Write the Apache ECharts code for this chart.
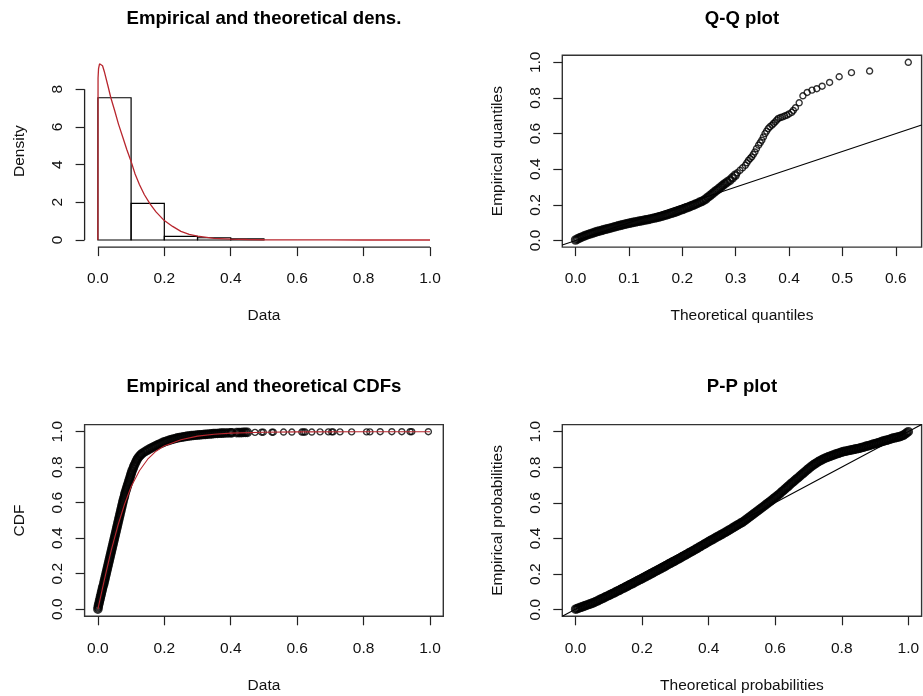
<!DOCTYPE html>
<html>
<head>
<meta charset="utf-8">
<title>Goodness-of-fit plots</title>
<script src="https://cdn.jsdelivr.net/npm/echarts@6/dist/echarts.min.js"></script>
<style>
  html, body { margin: 0; padding: 0; background: #fff; }
  #chart { width: 923px; height: 696px; }
</style>
</head>
<body>
<div id="chart"></div>
<script>
// ---- histogram + fitted density ----
const histBreaks = [0, 0.1, 0.2, 0.3, 0.4, 0.5];
const histDensity = [7.55, 1.94, 0.19, 0.12, 0.06];
const densX = [0, 0.0005, 0.002, 0.005, 0.009, 0.014, 0.02, 0.03, 0.039, 0.05, 0.062, 0.075, 0.087, 0.1, 0.112, 0.125, 0.14, 0.157, 0.175, 0.2, 0.225, 0.25, 0.275, 0.3, 0.35, 0.4, 0.45, 0.5, 0.6, 0.7, 0.8, 0.9, 1.0];
const densY = [0, 8.6, 9.1, 9.35, 9.43, 9.25, 8.9, 8.2, 7.55, 6.9, 6.15, 5.45, 4.8, 4.17, 3.5, 2.95, 2.4, 1.92, 1.49, 1.03, 0.72, 0.46, 0.3, 0.2, 0.09, 0.05, 0.025, 0.012, 0.004, 0.001, 0, 0, 0];

// ---- Q-Q plot ----
const qqTheo = [0, 0.004, 0.008, 0.012, 0.016, 0.02, 0.024, 0.028, 0.032, 0.036, 0.04, 0.044, 0.048, 0.052, 0.056, 0.06, 0.064, 0.068, 0.072, 0.076,
  0.08, 0.084, 0.088, 0.092, 0.096, 0.1, 0.104, 0.108, 0.112, 0.116, 0.12, 0.124, 0.128, 0.132, 0.136, 0.14, 0.144, 0.148, 0.152, 0.156,
  0.16, 0.164, 0.168, 0.172, 0.176, 0.18, 0.184, 0.188, 0.192, 0.196, 0.2, 0.204, 0.208, 0.212, 0.216, 0.22, 0.224, 0.228, 0.232, 0.236,
  0.24, 0.244, 0.248, 0.252, 0.256, 0.26, 0.264, 0.268, 0.272, 0.276, 0.28,
  0.284, 0.289, 0.294, 0.299, 0.303, 0.308, 0.313, 0.318, 0.321, 0.324, 0.327, 0.33, 0.333, 0.336, 0.339, 0.343, 0.346, 0.349, 0.352, 0.355,
  0.358, 0.361, 0.364, 0.368, 0.371, 0.374, 0.377, 0.38, 0.384, 0.388, 0.392, 0.396, 0.4, 0.405, 0.408, 0.412, 0.419, 0.426, 0.434, 0.443,
  0.452, 0.462, 0.476, 0.494, 0.517, 0.551, 0.6235];
const qqEmp = [0.003, 0.009, 0.015, 0.02, 0.025, 0.03, 0.034, 0.038, 0.042, 0.046, 0.05, 0.053, 0.056, 0.06, 0.063, 0.066, 0.069, 0.072, 0.076, 0.079,
  0.082, 0.085, 0.088, 0.091, 0.094, 0.097, 0.099, 0.102, 0.104, 0.107, 0.109, 0.111, 0.114, 0.116, 0.118, 0.121, 0.124, 0.126, 0.129, 0.132,
  0.135, 0.138, 0.142, 0.145, 0.149, 0.153, 0.157, 0.161, 0.165, 0.17, 0.174, 0.179, 0.184, 0.188, 0.193, 0.198, 0.203, 0.208, 0.214, 0.219,
  0.225, 0.233, 0.243, 0.252, 0.262, 0.272, 0.281, 0.29, 0.3, 0.31, 0.319,
  0.328, 0.338, 0.352, 0.366, 0.38, 0.394, 0.408, 0.422, 0.436, 0.45, 0.46, 0.469, 0.483, 0.497, 0.516, 0.535, 0.549, 0.563, 0.581, 0.6,
  0.614, 0.628, 0.638, 0.647, 0.657, 0.666, 0.676, 0.685, 0.69, 0.694, 0.699, 0.703, 0.71, 0.719, 0.73, 0.745, 0.773, 0.812, 0.831, 0.844,
  0.852, 0.866, 0.887, 0.919, 0.942, 0.951, 1.0];

// ---- empirical and theoretical CDF ----
const cdfX = [0, 0.001, 0.002, 0.004, 0.005, 0.007, 0.008, 0.01, 0.011, 0.013, 0.014, 0.016, 0.018, 0.019, 0.021, 0.022, 0.024, 0.025, 0.027, 0.028,
  0.03, 0.031, 0.033, 0.034, 0.036, 0.037, 0.039, 0.04, 0.042, 0.043, 0.045, 0.046, 0.048, 0.049, 0.051, 0.052, 0.054, 0.055, 0.057, 0.058,
  0.06, 0.061, 0.063, 0.064, 0.066, 0.067, 0.069, 0.07, 0.072, 0.073, 0.075, 0.076, 0.078, 0.08, 0.081, 0.083, 0.085, 0.087, 0.089, 0.091,
  0.093, 0.095, 0.097, 0.099, 0.101, 0.103, 0.106, 0.108, 0.111, 0.114, 0.117, 0.12, 0.124, 0.128,
  0.132, 0.138, 0.144, 0.15, 0.156, 0.162, 0.168, 0.174, 0.18, 0.186, 0.192, 0.198, 0.204, 0.21, 0.216, 0.222, 0.228, 0.234, 0.24, 0.246,
  0.252, 0.258, 0.264, 0.27, 0.276, 0.282, 0.288, 0.294, 0.3, 0.306, 0.312, 0.318, 0.324, 0.33, 0.336, 0.342, 0.348, 0.354, 0.36, 0.366,
  0.372, 0.378, 0.385, 0.392, 0.4,
  0.403, 0.418, 0.425, 0.432, 0.438, 0.444, 0.45, 0.473, 0.493, 0.498, 0.524, 0.528, 0.559, 0.584, 0.614, 0.619, 0.624, 0.644, 0.669, 0.694,
  0.704, 0.708, 0.729, 0.764, 0.809, 0.819, 0.85, 0.885, 0.915, 0.94, 0.945, 0.995];
const cdfY = [0, 0.012, 0.024, 0.036, 0.048, 0.06, 0.072, 0.084, 0.096, 0.108, 0.12, 0.132, 0.144, 0.156, 0.168, 0.18, 0.192, 0.204, 0.216, 0.228,
  0.24, 0.252, 0.264, 0.276, 0.288, 0.3, 0.312, 0.324, 0.336, 0.348, 0.36, 0.372, 0.384, 0.396, 0.408, 0.42, 0.432, 0.444, 0.456, 0.468,
  0.48, 0.492, 0.504, 0.516, 0.528, 0.54, 0.552, 0.564, 0.576, 0.588, 0.6, 0.612, 0.624, 0.636, 0.648, 0.66, 0.672, 0.684, 0.696, 0.708,
  0.72, 0.732, 0.744, 0.756, 0.768, 0.78, 0.792, 0.804, 0.816, 0.828, 0.84, 0.85, 0.86, 0.868,
  0.875, 0.883, 0.89, 0.897, 0.903, 0.909, 0.915, 0.92, 0.926, 0.931, 0.936, 0.941, 0.945, 0.949, 0.953, 0.956, 0.959, 0.962, 0.965, 0.967,
  0.969, 0.971, 0.973, 0.975, 0.976, 0.978, 0.979, 0.98, 0.981, 0.982, 0.983, 0.984, 0.985, 0.986, 0.987, 0.988, 0.989, 0.99, 0.99, 0.991,
  0.992, 0.992, 0.993, 0.993, 0.994,
  0.994, 0.995, 0.995, 0.995, 0.996, 0.996, 0.996, 0.996, 0.997, 0.997, 0.997, 0.997, 0.998, 0.998, 0.998, 0.998, 0.998, 0.998, 0.999, 0.999,
  0.999, 0.999, 0.999, 0.999, 0.999, 0.999, 1.0, 1.0, 1.0, 1.0, 1.0, 1.0];
const cdfTheoX = [0, 0.02, 0.04, 0.06, 0.08, 0.1, 0.125, 0.15, 0.175, 0.2, 0.25, 0.3, 0.35, 0.4, 0.5, 0.6, 0.8, 1.0];
const cdfTheoY = [0, 0.17, 0.33, 0.47, 0.59, 0.69, 0.78, 0.845, 0.89, 0.92, 0.955, 0.975, 0.986, 0.992, 0.997, 0.999, 1.0, 1.0];

// ---- P-P plot ----
const ppTheo = [0, 0.005, 0.01, 0.015, 0.02, 0.025, 0.03, 0.035, 0.04, 0.045, 0.05, 0.055, 0.06, 0.065, 0.07, 0.075, 0.08, 0.085, 0.09, 0.095,
  0.1, 0.105, 0.11, 0.115, 0.12, 0.125, 0.13, 0.135, 0.14, 0.145, 0.15, 0.155, 0.16, 0.165, 0.17, 0.175, 0.18, 0.185, 0.19, 0.195,
  0.2, 0.205, 0.21, 0.215, 0.22, 0.225, 0.23, 0.235, 0.24, 0.245, 0.25, 0.255, 0.26, 0.265, 0.27, 0.275, 0.28, 0.285, 0.29, 0.295,
  0.3, 0.305, 0.31, 0.315, 0.32, 0.325, 0.33, 0.335, 0.34, 0.345, 0.35, 0.355, 0.36, 0.365, 0.37, 0.375, 0.38, 0.385, 0.39, 0.395,
  0.4, 0.405, 0.41, 0.415, 0.42, 0.425, 0.43, 0.435, 0.44, 0.445, 0.45, 0.455, 0.46, 0.465, 0.47, 0.475, 0.48, 0.485, 0.49, 0.495,
  0.5, 0.505, 0.51, 0.515, 0.52, 0.525, 0.53, 0.535, 0.54, 0.545, 0.55, 0.555, 0.56, 0.565, 0.57, 0.575, 0.58, 0.585, 0.59, 0.595,
  0.6, 0.605, 0.61, 0.615, 0.62, 0.625, 0.63, 0.635, 0.64, 0.645, 0.65, 0.655, 0.66, 0.665, 0.67, 0.675, 0.68, 0.685, 0.69, 0.695,
  0.7, 0.705, 0.71, 0.715, 0.72, 0.725, 0.73, 0.735, 0.74, 0.745, 0.75, 0.755, 0.76, 0.765, 0.77, 0.775, 0.78, 0.785, 0.79, 0.795,
  0.8, 0.805, 0.81, 0.815, 0.82, 0.825, 0.83, 0.835, 0.84, 0.845, 0.85, 0.855, 0.86, 0.865, 0.87, 0.875, 0.88, 0.885, 0.89, 0.895,
  0.9, 0.905, 0.91, 0.915, 0.92, 0.925, 0.93, 0.935, 0.94, 0.945, 0.95, 0.955, 0.96, 0.965, 0.97, 0.975, 0.98, 0.985, 0.99, 0.995, 1.0];
const ppEmp = [0.003, 0.006, 0.01, 0.013, 0.016, 0.02, 0.023, 0.027, 0.03, 0.033, 0.037, 0.04, 0.045, 0.049, 0.054, 0.058, 0.063, 0.067, 0.072, 0.076,
  0.081, 0.085, 0.09, 0.094, 0.099, 0.104, 0.108, 0.113, 0.118, 0.122, 0.127, 0.132, 0.137, 0.142, 0.146, 0.151, 0.156, 0.161, 0.166, 0.17,
  0.175, 0.18, 0.185, 0.19, 0.195, 0.2, 0.205, 0.21, 0.215, 0.22, 0.225, 0.23, 0.235, 0.24, 0.245, 0.25, 0.256, 0.261, 0.266, 0.271,
  0.276, 0.281, 0.286, 0.291, 0.297, 0.302, 0.307, 0.312, 0.318, 0.323, 0.328, 0.333, 0.339, 0.344, 0.35, 0.355, 0.361, 0.366, 0.372, 0.377,
  0.383, 0.388, 0.393, 0.398, 0.404, 0.409, 0.414, 0.419, 0.424, 0.43, 0.435, 0.44, 0.446, 0.451, 0.457, 0.463, 0.468, 0.474, 0.479, 0.485,
  0.49, 0.496, 0.503, 0.51, 0.517, 0.524, 0.531, 0.538, 0.545, 0.552, 0.559, 0.566, 0.573, 0.58, 0.588, 0.595, 0.602, 0.609, 0.616, 0.624,
  0.631, 0.638, 0.646, 0.654, 0.663, 0.671, 0.679, 0.687, 0.695, 0.704, 0.712, 0.72, 0.728, 0.736, 0.744, 0.752, 0.76, 0.768, 0.776, 0.784,
  0.792, 0.8, 0.807, 0.814, 0.82, 0.826, 0.832, 0.837, 0.842, 0.847, 0.851, 0.855, 0.859, 0.862, 0.866, 0.869, 0.873, 0.876, 0.879, 0.882,
  0.885, 0.888, 0.89, 0.892, 0.894, 0.896, 0.898, 0.9, 0.902, 0.904, 0.906, 0.908, 0.911, 0.913, 0.916, 0.919, 0.921, 0.924, 0.927, 0.93,
  0.932, 0.935, 0.938, 0.941, 0.944, 0.947, 0.95, 0.952, 0.955, 0.958, 0.961, 0.964, 0.966, 0.968, 0.97, 0.973, 0.976, 0.98, 0.986, 0.993, 1.0];

// tick labels
const ticksUnit = [0, 0.2, 0.4, 0.6, 0.8, 1.0];
const ticksQQx = [0, 0.1, 0.2, 0.3, 0.4, 0.5, 0.6];
const ticksDens = [0, 2, 4, 6, 8];

const titles = ['Empirical and theoretical dens.', 'Q-Q plot', 'Empirical and theoretical CDFs', 'P-P plot'];

// ---- layout (R plot regions, px) ----
const FONT = '"Liberation Sans", Arial, sans-serif';
const BASE = 15.5;
const INK = '#111';
const FIT = '#b8262e';
const regions = [
  { left: 84.6, top: 55.2, width: 358.7, height: 191.9 },
  { left: 562.3, top: 55.2, width: 359.3, height: 191.9 },
  { left: 84.6, top: 424.6, width: 358.7, height: 191.7 },
  { left: 562.3, top: 424.6, width: 359.3, height: 191.7 }
];

// R extends the data range by 4% on each side
function rlim(vals) {
  const lo = Math.min(...vals), hi = Math.max(...vals);
  const d = (hi - lo) * 0.04;
  return [lo - d, hi + d];
}
const one = v => v.toFixed(1);

const limDensX = rlim(densX);
const limDensY = rlim([0].concat(densY, histDensity));
const limQQx = rlim(qqTheo);
const limQQy = rlim(qqEmp);
const limCdfX = rlim(cdfX.concat(cdfTheoX));
const limCdfY = rlim(cdfY.concat(cdfTheoY));
const limPPx = rlim(ppTheo);
const limPPy = rlim(ppEmp);

function xAxis(gi, lim, ticks, fmt, name) {
  return {
    type: 'value', gridIndex: gi, min: lim[0], max: lim[1], position: 'bottom',
    axisLine: { show: false, onZero: false },
    axisTick: { show: true, customValues: ticks, length: 9, lineStyle: { color: '#222', width: 1.2 } },
    axisLabel: { customValues: ticks, formatter: fmt, margin: 24, fontSize: BASE, fontFamily: FONT, color: INK },
    splitLine: { show: false },
    name: name, nameLocation: 'middle', nameGap: 61,
    nameTextStyle: { fontSize: BASE, fontFamily: FONT, color: INK }
  };
}
function yAxis(gi, lim, ticks, fmt, name) {
  return {
    type: 'value', gridIndex: gi, min: lim[0], max: lim[1], position: 'left',
    axisLine: { show: false, onZero: false },
    axisTick: { show: true, customValues: ticks, length: 9, lineStyle: { color: '#222', width: 1.2 } },
    axisLabel: { customValues: ticks, formatter: fmt, rotate: 90, margin: 19, fontSize: BASE, fontFamily: FONT, color: INK },
    splitLine: { show: false },
    name: name, nameLocation: 'middle', nameGap: 57,
    nameTextStyle: { fontSize: BASE, fontFamily: FONT, color: INK }
  };
}

// open circles; where the points pile up R's band looks solid, so those get a heavier stroke
function circles(gi, xs, ys, denseUpTo) {
  return {
    type: 'scatter', xAxisIndex: gi, yAxisIndex: gi, symbol: 'circle', silent: true, z: 2,
    data: xs.map((x, i) => {
      const dense = x <= denseUpTo;
      return {
        value: [x, ys[i]],
        symbolSize: dense ? 7.2 : 6,
        itemStyle: { color: 'rgba(0,0,0,0)', borderColor: '#000', borderWidth: dense ? 2.4 : 1.4 }
      };
    })
  };
}
function pairs(xs, ys) { return xs.map((x, i) => [x, ys[i]]); }
function thinLine(gi, data, color, width, z) {
  return {
    type: 'line', xAxisIndex: gi, yAxisIndex: gi, data: data, showSymbol: false, symbol: 'none',
    clip: false, silent: true, z: z, lineStyle: { color: color, width: width }
  };
}

const chart = echarts.init(document.getElementById('chart'), null, { renderer: 'canvas' });

chart.setOption({
  backgroundColor: '#fff',
  animation: false,
  grid: regions.map((r, i) => ({
    left: r.left, top: r.top, width: r.width, height: r.height,
    show: i > 0, borderColor: '#333', borderWidth: 1.4, backgroundColor: 'transparent',
    containLabel: false, outerBoundsMode: 'none'
  })),
  xAxis: [
    xAxis(0, limDensX, ticksUnit, one, 'Data'),
    xAxis(1, limQQx, ticksQQx, one, 'Theoretical quantiles'),
    xAxis(2, limCdfX, ticksUnit, one, 'Data'),
    xAxis(3, limPPx, ticksUnit, one, 'Theoretical probabilities')
  ],
  yAxis: [
    yAxis(0, limDensY, ticksDens, v => String(v), 'Density'),
    yAxis(1, limQQy, ticksUnit, one, 'Empirical quantiles'),
    yAxis(2, limCdfY, ticksUnit, one, 'CDF'),
    yAxis(3, limPPy, ticksUnit, one, 'Empirical probabilities')
  ],
  graphic: titles.map((t, i) => ({
    type: 'text', silent: true,
    x: regions[i].left + regions[i].width / 2,
    y: i < 2 ? 18.5 : 387,
    style: {
      text: t, font: 'bold 18.6px ' + FONT, fill: '#000',
      textAlign: 'center', textVerticalAlign: 'middle', align: 'center', verticalAlign: 'middle'
    }
  })),
  series: [
    // panel 1: histogram bars
    {
      type: 'custom', xAxisIndex: 0, yAxisIndex: 0, silent: true, z: 2,
      data: histDensity.map((d, i) => [histBreaks[i], histBreaks[i + 1], d]),
      encode: { x: [0, 1], y: 2 },
      renderItem: function (params, api) {
        const p0 = api.coord([api.value(0), api.value(2)]);
        const p1 = api.coord([api.value(1), 0]);
        return {
          type: 'rect',
          shape: { x: p0[0], y: p0[1], width: p1[0] - p0[0], height: p1[1] - p0[1] },
          style: { fill: 'none', stroke: '#000', lineWidth: 1.2 }
        };
      }
    },
    thinLine(0, pairs(densX, densY), FIT, 1.3, 3),
    // panel 1 axis lines (R draws them from the first to the last tick)
    thinLine(0, [[ticksUnit[0], limDensY[0]], [ticksUnit[ticksUnit.length - 1], limDensY[0]]], '#222', 1.3, 4),
    thinLine(0, [[limDensX[0], ticksDens[0]], [limDensX[0], ticksDens[ticksDens.length - 1]]], '#222', 1.3, 4),
    // panel 2: Q-Q
    circles(1, qqTheo, qqEmp, 0.3),
    thinLine(1, [[limQQx[0], limQQx[0]], [limQQx[1], limQQx[1]]], '#000', 1.1, 3),
    // panel 3: CDFs
    circles(2, cdfX, cdfY, 0.45),
    thinLine(2, pairs(cdfTheoX, cdfTheoY), FIT, 1.1, 3),
    // panel 4: P-P
    circles(3, ppTheo, ppEmp, 1),
    thinLine(3, [[limPPx[0], limPPy[0]], [limPPx[1], limPPy[1]]], '#000', 1.1, 3)
  ]
});
</script>
</body>
</html>
